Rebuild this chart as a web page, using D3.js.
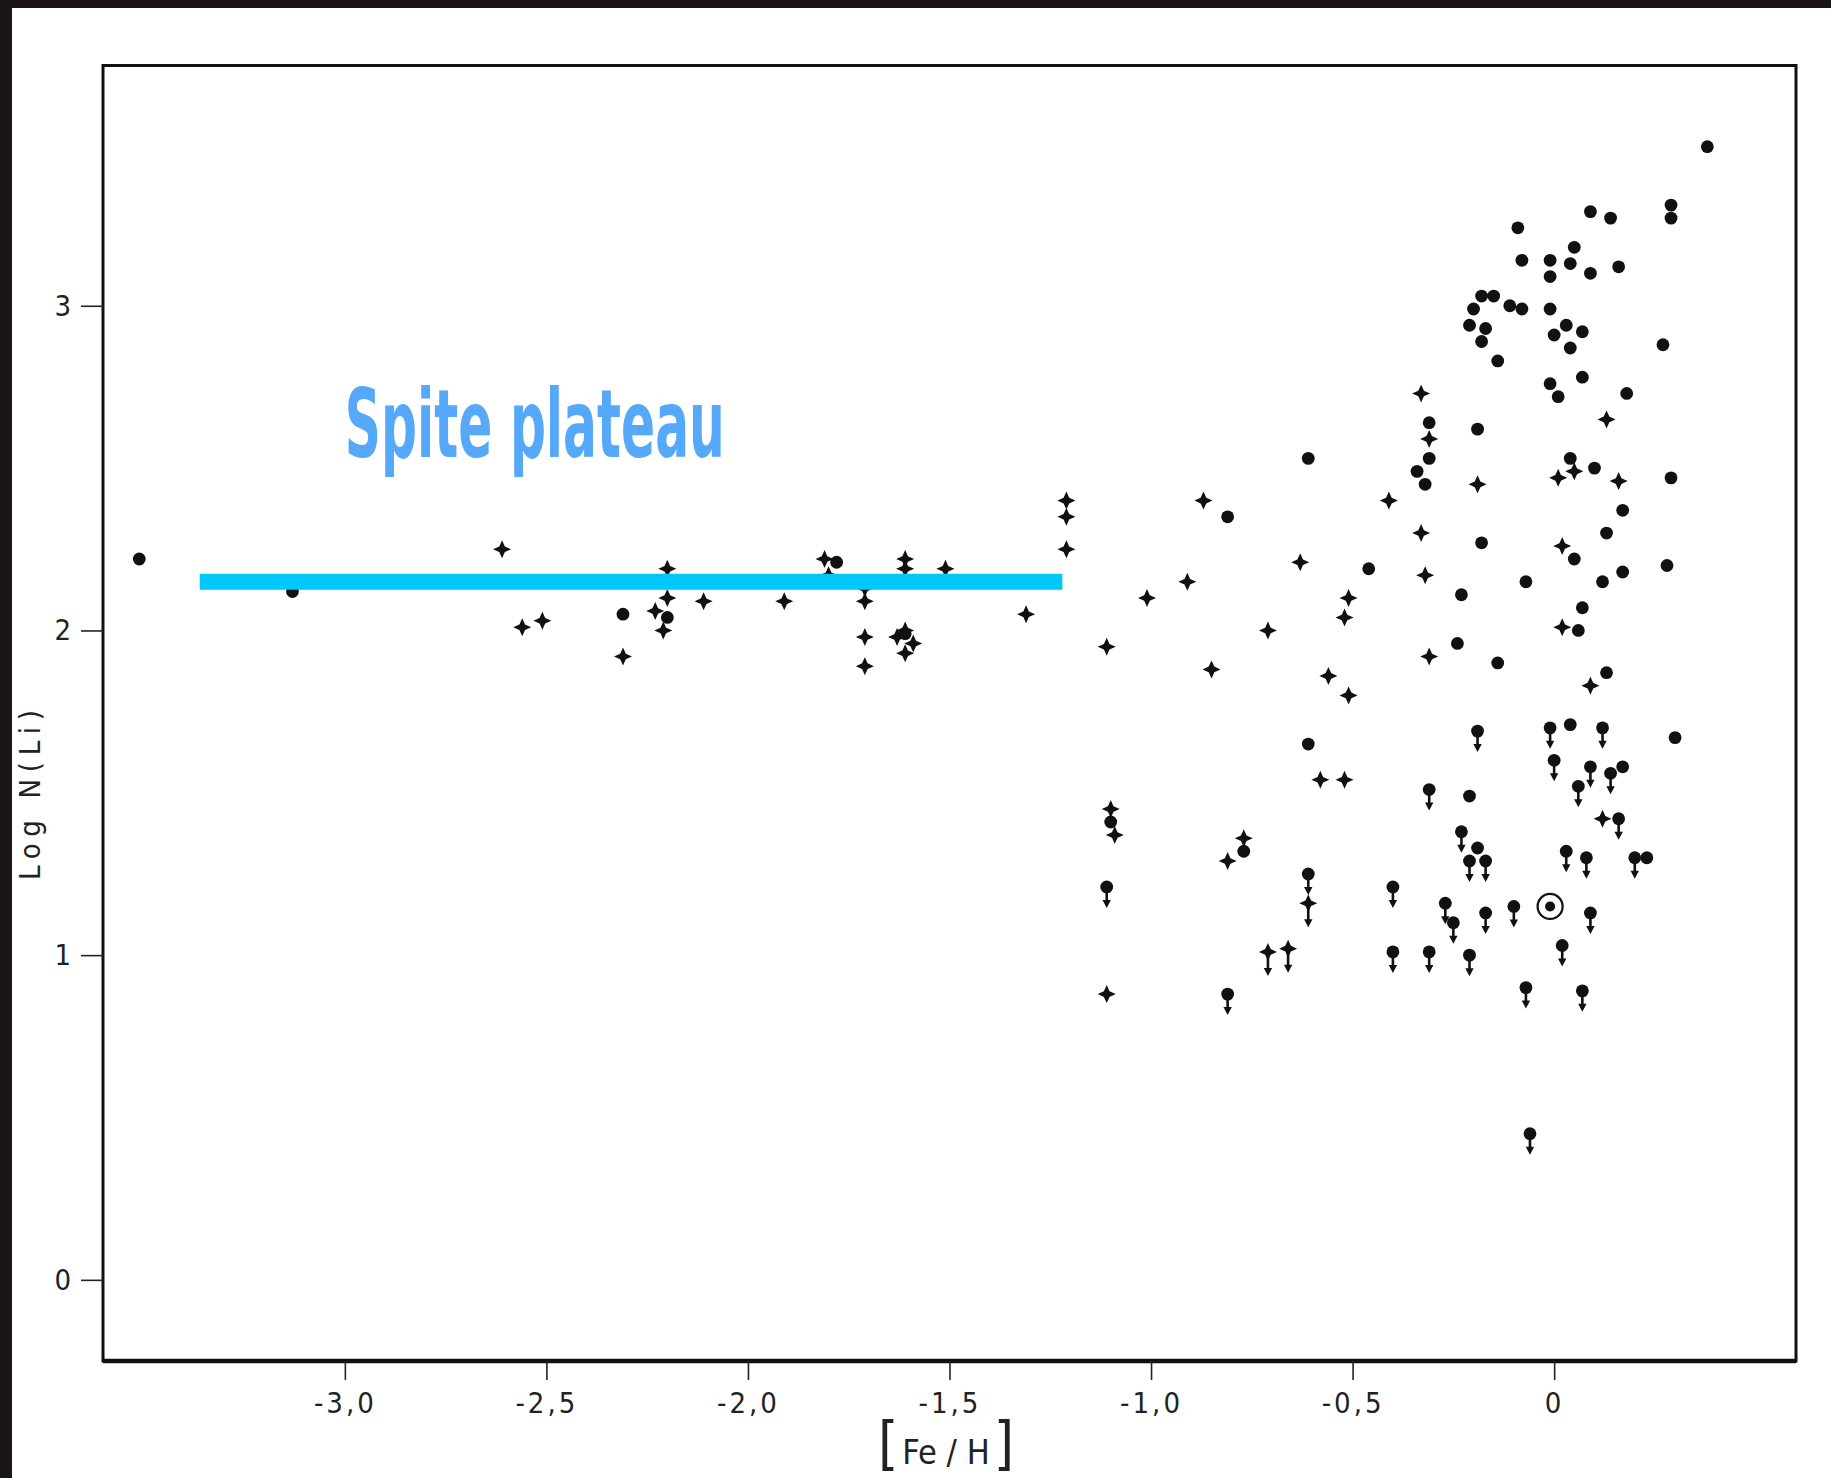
<!DOCTYPE html>
<html>
<head>
<meta charset="utf-8">
<script src="https://cdn.jsdelivr.net/npm/d3@7"></script>
<style>
  body { margin: 0; background: #1b1416; }
  svg { display: block; }
</style>
</head>
<body>
<svg id="chart" width="1831" height="1478"></svg>
<script>
// [Fe/H], log N(Li) pairs
const dots = [
  [-3.51, 2.22], [-3.13, 2.12], [-2.31, 2.05], [-2.20, 2.04], [-1.78, 2.21], [-1.61, 1.99],
  [-0.81, 2.35], [-0.61, 2.53], [-0.46, 2.19], [-0.61, 1.65], [-0.31, 2.64], [-0.31, 2.53],
  [-0.34, 2.49], [-0.32, 2.45], [-1.10, 1.41], [-0.77, 1.32],
  [0.38, 3.49], [0.29, 3.31], [0.29, 3.27], [0.09, 3.29], [0.14, 3.27], [-0.09, 3.24],
  [-0.08, 3.14], [-0.01, 3.14], [-0.01, 3.09], [0.05, 3.18], [0.04, 3.13], [0.09, 3.10],
  [0.16, 3.12], [-0.18, 3.03], [-0.15, 3.03], [-0.20, 2.99], [-0.11, 3.00], [-0.08, 2.99],
  [-0.01, 2.99], [-0.21, 2.94], [-0.17, 2.93], [-0.18, 2.89], [-0.14, 2.83], [0.03, 2.94],
  [0.00, 2.91], [0.07, 2.92], [0.04, 2.87], [0.27, 2.88], [-0.01, 2.76], [0.01, 2.72],
  [0.07, 2.78], [0.18, 2.73], [-0.19, 2.62], [0.04, 2.53], [0.10, 2.50], [0.29, 2.47],
  [0.17, 2.37], [0.13, 2.30], [-0.18, 2.27], [0.05, 2.22], [-0.23, 2.11], [-0.07, 2.15],
  [0.12, 2.15], [0.17, 2.18], [0.28, 2.20], [0.07, 2.07], [0.06, 2.00], [-0.24, 1.96],
  [-0.14, 1.90], [0.13, 1.87], [0.04, 1.71], [0.30, 1.67], [0.17, 1.58], [-0.21, 1.49],
  [-0.19, 1.33], [0.23, 1.30]
];
const crosses = [
  [-2.61, 2.25], [-2.56, 2.01], [-2.51, 2.03], [-2.31, 1.92], [-2.20, 2.19], [-2.20, 2.10],
  [-2.23, 2.06], [-2.21, 2.00], [-2.11, 2.09], [-1.91, 2.09], [-1.81, 2.22], [-1.80, 2.17],
  [-1.71, 2.13], [-1.71, 2.09], [-1.71, 1.98], [-1.71, 1.89], [-1.61, 2.22], [-1.61, 2.19],
  [-1.51, 2.19], [-1.63, 1.98], [-1.61, 2.00], [-1.59, 1.96], [-1.61, 1.93], [-1.31, 2.05],
  [-1.21, 2.40], [-1.21, 2.35], [-1.21, 2.25], [-1.11, 1.95], [-1.01, 2.10], [-0.87, 2.40],
  [-0.91, 2.15], [-0.85, 1.88], [-0.63, 2.21], [-0.71, 2.00], [-0.51, 2.10], [-0.52, 2.04],
  [-0.56, 1.86], [-0.51, 1.80], [-0.58, 1.54], [-0.52, 1.54], [-0.41, 2.40], [-0.33, 2.30],
  [-0.32, 2.17], [-0.31, 1.92], [-0.31, 2.59], [-0.33, 2.73], [-1.10, 1.45], [-1.09, 1.37],
  [-1.11, 0.88], [-0.77, 1.36], [-0.81, 1.29], [-0.19, 2.45], [0.13, 2.65], [0.05, 2.49],
  [0.01, 2.47], [0.16, 2.46], [0.02, 2.26], [0.02, 2.01], [0.09, 1.83], [0.12, 1.42]
];
// upper limits (arrow pointing down)
const dotLimits = [
  [-0.31, 1.51], [-1.11, 1.21], [-0.81, 0.88], [-0.61, 1.25], [-0.40, 1.21], [-0.40, 1.01],
  [-0.31, 1.01], [-0.27, 1.16], [-0.19, 1.69], [-0.01, 1.70], [0.12, 1.70], [0.00, 1.60],
  [0.09, 1.58], [0.14, 1.56], [0.06, 1.52], [0.16, 1.42], [-0.23, 1.38], [-0.21, 1.29],
  [-0.17, 1.29], [0.03, 1.32], [0.08, 1.30], [0.20, 1.30], [-0.25, 1.10], [-0.17, 1.13],
  [-0.10, 1.15], [0.09, 1.13], [-0.21, 1.00], [0.02, 1.03], [-0.07, 0.90], [0.07, 0.89],
  [-0.06, 0.45]
];
const crossLimits = [[-0.61, 1.16], [-0.71, 1.01], [-0.66, 1.02]];
const sun = [[-0.01, 1.15]];

const plateauFeH = [-3.36, -1.22];
const plateauLi = 2.15;

const xTicks = [-3.0, -2.5, -2.0, -1.5, -1.0, -0.5, 0];
const yTicks = [0, 1, 2, 3];

const font = '"Liberation Sans Narrow", "DejaVu Sans Condensed", "Liberation Sans", sans-serif';

const svg = d3.select("#chart");

// paper
svg.append("rect").attr("x", 12).attr("y", 8).attr("width", 1819).attr("height", 1470).attr("fill", "#ffffff");

const x = d3.scaleLinear().domain([-3.6, 0.6]).range([103, 1796]);
const y = d3.scaleLinear().domain([-0.25, 3.74]).range([1361, 65.5]);

// frame
svg.append("rect")
  .attr("x", x(-3.6)).attr("y", y(3.74))
  .attr("width", x(0.6) - x(-3.6)).attr("height", y(-0.25) - y(3.74))
  .attr("fill", "none").attr("stroke", "#111").attr("stroke-width", 3);
svg.append("line")
  .attr("x1", x(-3.6)).attr("x2", x(0.6)).attr("y1", y(-0.25)).attr("y2", y(-0.25))
  .attr("stroke", "#111").attr("stroke-width", 4.5);

const yAxis = svg.append("g")
  .attr("transform", `translate(${x(-3.6)},0)`)
  .call(d3.axisLeft(y).tickValues(yTicks).tickSize(22).tickPadding(10).tickFormat(d3.format("d")));
yAxis.select(".domain").remove();

const xAxis = svg.append("g")
  .attr("transform", `translate(0,${y(-0.25)})`)
  .call(d3.axisBottom(x).tickValues(xTicks).tickSize(19).tickPadding(12)
    .tickFormat(d => d === 0 ? "0" : d.toFixed(1).replace(".", ",")));
xAxis.select(".domain").remove();

svg.selectAll(".tick line").attr("stroke", "#222").attr("stroke-width", 1.6);
svg.selectAll(".tick text").attr("fill", "#222").style("font-family", font).style("font-size", "29px");
xAxis.selectAll(".tick text").style("letter-spacing", "3px");

// axis titles
const xt = svg.append("text")
  .attr("x", 946).attr("y", 1464)
  .attr("text-anchor", "middle")
  .style("font-family", font).attr("fill", "#222");
xt.append("tspan").style("font-size", "58px").style("font-weight", "300").text("[");
xt.append("tspan").style("font-size", "34px").attr("dx", 4).text("Fe / H");
xt.append("tspan").style("font-size", "58px").style("font-weight", "300").attr("dx", 4).text("]");

svg.append("text")
  .attr("transform", "translate(40,795) rotate(-90)")
  .attr("text-anchor", "middle")
  .attr("textLength", 170).attr("lengthAdjust", "spacing")
  .style("font-family", font).style("font-size", "29px").attr("fill", "#222")
  .text("Log N(Li)");

// markers
const star = (s, r) => `M0,${-s}L${r},${-r}L${s},0L${r},${r}L0,${s}L${-r},${r}L${-s},0L${-r},${-r}Z`;
const pos = d => `translate(${x(d[0])},${y(d[1])})`;

function arrow(g, len) {
  g.append("line").attr("x1", 0).attr("x2", 0).attr("y1", 0).attr("y2", len - 6)
    .attr("stroke", "#111").attr("stroke-width", 2.6);
  g.append("path").attr("d", `M-4.2,${len - 8}L4.2,${len - 8}L0,${len}Z`).attr("fill", "#111");
}

svg.append("g").selectAll("circle").data(dots).join("circle")
  .attr("cx", d => x(d[0])).attr("cy", d => y(d[1])).attr("r", 6.4).attr("fill", "#111");

svg.append("g").selectAll("path").data(crosses).join("path")
  .attr("transform", pos).attr("d", star(9, 2.8)).attr("fill", "#111");

svg.append("g").selectAll("g").data(dotLimits).join("g")
  .attr("transform", pos)
  .each(function() {
    const g = d3.select(this);
    arrow(g, 21);
    g.append("circle").attr("r", 6.4).attr("fill", "#111");
  });

svg.append("g").selectAll("g").data(crossLimits).join("g")
  .attr("transform", pos)
  .each(function() {
    const g = d3.select(this);
    arrow(g, 24);
    g.append("path").attr("d", star(9, 2.8)).attr("fill", "#111");
  });

const sunG = svg.append("g").selectAll("g").data(sun).join("g").attr("transform", pos);
sunG.append("circle").attr("r", 12.5).attr("fill", "none").attr("stroke", "#111").attr("stroke-width", 2.2);
sunG.append("circle").attr("r", 5).attr("fill", "#111");

// Spite plateau annotation, laid over the points
svg.append("line")
  .attr("x1", x(plateauFeH[0])).attr("x2", x(plateauFeH[1]))
  .attr("y1", y(plateauLi)).attr("y2", y(plateauLi))
  .attr("stroke", "#00c8fa").attr("stroke-width", 16);

svg.append("text")
  .attr("x", x(-3.0)).attr("y", 457)
  .attr("textLength", 380).attr("lengthAdjust", "spacingAndGlyphs")
  .style("font-family", font).style("font-size", "95px").style("font-weight", "bold")
  .attr("fill", "#55a8fa")
  .text("Spite plateau");
</script>
</body>
</html>
